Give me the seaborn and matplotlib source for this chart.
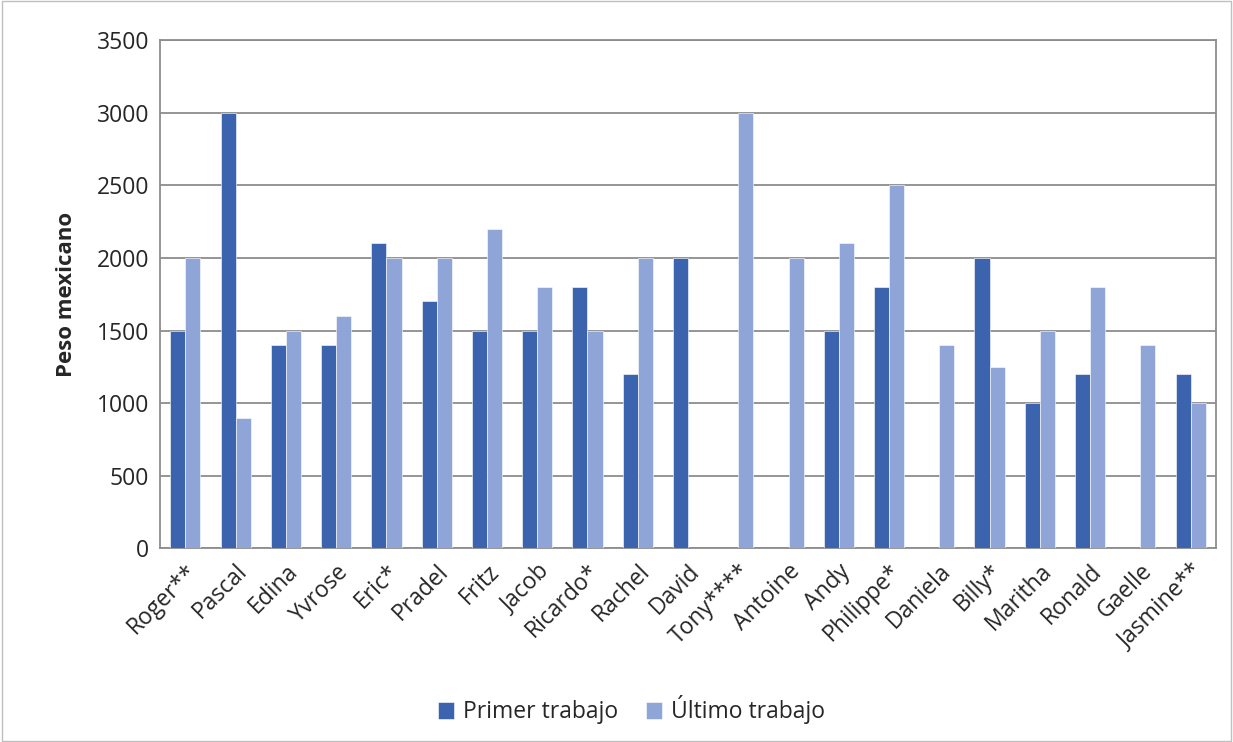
import pandas as pd
import numpy as np
import seaborn as sns
import matplotlib.pyplot as plt
from matplotlib.patches import Rectangle

# data
names = ['Roger**', 'Pascal', 'Edina', 'Yvrose', 'Eric*', 'Pradel', 'Fritz', 'Jacob',
         'Ricardo*', 'Rachel', 'David', 'Tony****', 'Antoine', 'Andy', 'Philippe*',
         'Daniela', 'Billy*', 'Maritha', 'Ronald', 'Gaelle', 'Jasmine**']
primer = [1500, 3000, 1400, 1400, 2100, 1700, 1500, 1500, 1800, 1200, 2000,
          np.nan, np.nan, 1500, 1800, np.nan, 2000, 1000, 1200, np.nan, 1200]
ultimo = [2000, 900, 1500, 1600, 2000, 2000, 2200, 1800, 1500, 2000, np.nan,
          3000, 2000, 2100, 2500, 1400, 1250, 1500, 1800, 1400, 1000]
series = ['Primer trabajo', 'Último trabajo']
colors = ['#3C64AE', '#8FA5D7']

df = pd.DataFrame({'nombre': names * 2,
                   'serie': [series[0]] * len(names) + [series[1]] * len(names),
                   'valor': primer + ultimo})

sns.set_style('white')
plt.rcParams['font.family'] = ['Open Sans', 'DejaVu Sans']

fig, ax = plt.subplots(figsize=(12.33, 7.42), dpi=100)
fig.subplots_adjust(left=0.13, right=0.986, top=0.946, bottom=0.261)

sns.barplot(data=df, x='nombre', y='valor', hue='serie', order=names,
            hue_order=series, palette=colors, saturation=1, width=0.6, gap=0,
            edgecolor='white', linewidth=0.4, ax=ax, zorder=3)

ax.set_ylim(0, 3500)
ax.set_yticks(range(0, 3501, 500))
ax.yaxis.grid(True, color='#8C8C8C', linewidth=1.3, zorder=0)
ax.set_axisbelow(True)
for s in ax.spines.values():
    s.set_color('#8C8C8C')
    s.set_linewidth(1.3)
ax.tick_params(axis='both', length=0, labelsize=16.5, pad=8)
ax.set_xlabel('')
ax.set_ylabel('Peso mexicano', fontsize=16, fontweight='bold', labelpad=14)
plt.setp(ax.get_xticklabels(), rotation=45, ha='right', rotation_mode='anchor')
ax.set_xlim(-0.5, len(names) - 0.5)

# legend sits a bit left of the plot centre, as in the original
ax.legend(loc='center', bbox_to_anchor=(0.512, 1 - 710 / 742), bbox_transform=fig.transFigure,
          ncol=2, frameon=False, fontsize=16.5, handlelength=0.7, handleheight=0.7,
          columnspacing=1.2, handletextpad=0.4)

fig.patches.append(Rectangle((0.002, 0.002), 0.996, 0.996, transform=fig.transFigure,
                             fill=False, edgecolor='#BFBFBF', linewidth=1))

plt.savefig('out.png', dpi=100)
